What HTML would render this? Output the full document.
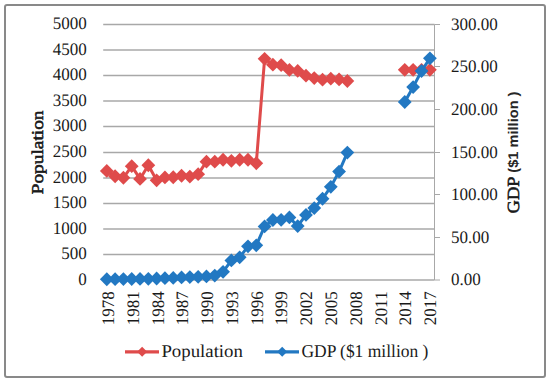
<!DOCTYPE html>
<html><head><meta charset="utf-8"><style>
html,body{margin:0;padding:0;background:#fff;}
svg{display:block;text-rendering:geometricPrecision;}
.t{font-family:"Liberation Serif",serif;font-size:17.5px;fill:#1a1a1a;}
.tl{font-family:"Liberation Serif",serif;font-size:18px;fill:#1a1a1a;}
.tb{font-family:"Liberation Serif",serif;font-size:16.5px;font-weight:normal;fill:#1a1a1a;stroke:#1a1a1a;stroke-width:0.55px;}
.tb2{font-family:"Liberation Serif",serif;font-size:17px;font-weight:normal;fill:#1a1a1a;stroke:#1a1a1a;stroke-width:0.55px;}
.ts{font-family:"Liberation Sans",sans-serif;font-size:14px;font-weight:bold;fill:#262626;}
</style></head><body>
<svg width="550" height="382" viewBox="0 0 550 382">
<rect x="0" y="0" width="550" height="382" fill="#fff"/>
<rect x="5" y="5" width="540" height="372" rx="2" ry="2" fill="#fff" stroke="#898989" stroke-width="2"/>
<line x1="103.2" y1="24.5" x2="434.5" y2="24.5" stroke="#a8a8a8" stroke-width="1.4"/>
<line x1="103.2" y1="50.0" x2="434.5" y2="50.0" stroke="#a8a8a8" stroke-width="1.4"/>
<line x1="103.2" y1="75.5" x2="434.5" y2="75.5" stroke="#a8a8a8" stroke-width="1.4"/>
<line x1="103.2" y1="101.0" x2="434.5" y2="101.0" stroke="#a8a8a8" stroke-width="1.4"/>
<line x1="103.2" y1="126.5" x2="434.5" y2="126.5" stroke="#a8a8a8" stroke-width="1.4"/>
<line x1="103.2" y1="152.5" x2="434.5" y2="152.5" stroke="#a8a8a8" stroke-width="1.4"/>
<line x1="103.2" y1="178.0" x2="434.5" y2="178.0" stroke="#a8a8a8" stroke-width="1.4"/>
<line x1="103.2" y1="203.5" x2="434.5" y2="203.5" stroke="#a8a8a8" stroke-width="1.4"/>
<line x1="103.2" y1="229.0" x2="434.5" y2="229.0" stroke="#a8a8a8" stroke-width="1.4"/>
<line x1="103.2" y1="254.5" x2="434.5" y2="254.5" stroke="#a8a8a8" stroke-width="1.4"/>
<line x1="103.2" y1="280.0" x2="434.5" y2="280.0" stroke="#a8a8a8" stroke-width="1.4"/>
<line x1="434.5" y1="24.5" x2="434.5" y2="280.0" stroke="#a8a8a8" stroke-width="1"/>
<line x1="434.5" y1="24.5" x2="440.0" y2="24.5" stroke="#a8a8a8" stroke-width="1"/>
<line x1="434.5" y1="66.5" x2="440.0" y2="66.5" stroke="#a8a8a8" stroke-width="1"/>
<line x1="434.5" y1="109.5" x2="440.0" y2="109.5" stroke="#a8a8a8" stroke-width="1"/>
<line x1="434.5" y1="152.5" x2="440.0" y2="152.5" stroke="#a8a8a8" stroke-width="1"/>
<line x1="434.5" y1="194.5" x2="440.0" y2="194.5" stroke="#a8a8a8" stroke-width="1"/>
<line x1="434.5" y1="237.5" x2="440.0" y2="237.5" stroke="#a8a8a8" stroke-width="1"/>
<line x1="434.5" y1="280.0" x2="440.0" y2="280.0" stroke="#a8a8a8" stroke-width="1"/>
<text transform="translate(86.8,29.40) scale(1,1.0)" text-anchor="end" class="t" textLength="34.0" lengthAdjust="spacingAndGlyphs">5000</text>
<text transform="translate(86.8,54.90) scale(1,1.0)" text-anchor="end" class="t" textLength="34.0" lengthAdjust="spacingAndGlyphs">4500</text>
<text transform="translate(86.8,80.40) scale(1,1.0)" text-anchor="end" class="t" textLength="34.0" lengthAdjust="spacingAndGlyphs">4000</text>
<text transform="translate(86.8,105.90) scale(1,1.0)" text-anchor="end" class="t" textLength="34.0" lengthAdjust="spacingAndGlyphs">3500</text>
<text transform="translate(86.8,131.40) scale(1,1.0)" text-anchor="end" class="t" textLength="34.0" lengthAdjust="spacingAndGlyphs">3000</text>
<text transform="translate(86.8,157.40) scale(1,1.0)" text-anchor="end" class="t" textLength="34.0" lengthAdjust="spacingAndGlyphs">2500</text>
<text transform="translate(86.8,182.90) scale(1,1.0)" text-anchor="end" class="t" textLength="34.0" lengthAdjust="spacingAndGlyphs">2000</text>
<text transform="translate(86.8,208.40) scale(1,1.0)" text-anchor="end" class="t" textLength="34.0" lengthAdjust="spacingAndGlyphs">1500</text>
<text transform="translate(86.8,233.90) scale(1,1.0)" text-anchor="end" class="t" textLength="34.0" lengthAdjust="spacingAndGlyphs">1000</text>
<text transform="translate(86.8,259.40) scale(1,1.0)" text-anchor="end" class="t" textLength="25.5" lengthAdjust="spacingAndGlyphs">500</text>
<text transform="translate(86.8,284.90) scale(1,1.0)" text-anchor="end" class="t" textLength="8.5" lengthAdjust="spacingAndGlyphs">0</text>
<text transform="translate(451.0,29.80) scale(1,1.0)" class="t" textLength="46.75" lengthAdjust="spacingAndGlyphs">300.00</text>
<text transform="translate(451.0,71.80) scale(1,1.0)" class="t" textLength="46.75" lengthAdjust="spacingAndGlyphs">250.00</text>
<text transform="translate(451.0,114.80) scale(1,1.0)" class="t" textLength="46.75" lengthAdjust="spacingAndGlyphs">200.00</text>
<text transform="translate(451.0,157.80) scale(1,1.0)" class="t" textLength="46.75" lengthAdjust="spacingAndGlyphs">150.00</text>
<text transform="translate(451.0,199.80) scale(1,1.0)" class="t" textLength="46.75" lengthAdjust="spacingAndGlyphs">100.00</text>
<text transform="translate(451.0,242.80) scale(1,1.0)" class="t" textLength="38.25" lengthAdjust="spacingAndGlyphs">50.00</text>
<text transform="translate(451.0,285.30) scale(1,1.0)" class="t" textLength="29.75" lengthAdjust="spacingAndGlyphs">0.00</text>
<text transform="translate(114.10,291.2) rotate(-90) scale(1,1.0)" text-anchor="end" class="t" textLength="34.0" lengthAdjust="spacingAndGlyphs">1978</text>
<text transform="translate(138.87,291.2) rotate(-90) scale(1,1.0)" text-anchor="end" class="t" textLength="34.0" lengthAdjust="spacingAndGlyphs">1981</text>
<text transform="translate(163.63,291.2) rotate(-90) scale(1,1.0)" text-anchor="end" class="t" textLength="34.0" lengthAdjust="spacingAndGlyphs">1984</text>
<text transform="translate(188.40,291.2) rotate(-90) scale(1,1.0)" text-anchor="end" class="t" textLength="34.0" lengthAdjust="spacingAndGlyphs">1987</text>
<text transform="translate(213.16,291.2) rotate(-90) scale(1,1.0)" text-anchor="end" class="t" textLength="34.0" lengthAdjust="spacingAndGlyphs">1990</text>
<text transform="translate(237.93,291.2) rotate(-90) scale(1,1.0)" text-anchor="end" class="t" textLength="34.0" lengthAdjust="spacingAndGlyphs">1993</text>
<text transform="translate(262.69,291.2) rotate(-90) scale(1,1.0)" text-anchor="end" class="t" textLength="34.0" lengthAdjust="spacingAndGlyphs">1996</text>
<text transform="translate(287.46,291.2) rotate(-90) scale(1,1.0)" text-anchor="end" class="t" textLength="34.0" lengthAdjust="spacingAndGlyphs">1999</text>
<text transform="translate(312.22,291.2) rotate(-90) scale(1,1.0)" text-anchor="end" class="t" textLength="34.0" lengthAdjust="spacingAndGlyphs">2002</text>
<text transform="translate(336.99,291.2) rotate(-90) scale(1,1.0)" text-anchor="end" class="t" textLength="34.0" lengthAdjust="spacingAndGlyphs">2005</text>
<text transform="translate(361.75,291.2) rotate(-90) scale(1,1.0)" text-anchor="end" class="t" textLength="34.0" lengthAdjust="spacingAndGlyphs">2008</text>
<text transform="translate(386.52,291.2) rotate(-90) scale(1,1.0)" text-anchor="end" class="t" textLength="34.0" lengthAdjust="spacingAndGlyphs">2011</text>
<text transform="translate(411.28,291.2) rotate(-90) scale(1,1.0)" text-anchor="end" class="t" textLength="34.0" lengthAdjust="spacingAndGlyphs">2014</text>
<text transform="translate(436.05,291.2) rotate(-90) scale(1,1.0)" text-anchor="end" class="t" textLength="34.0" lengthAdjust="spacingAndGlyphs">2017</text>
<polyline points="106.80,170.88 115.11,176.23 123.41,177.76 131.72,166.13 140.02,178.93 148.33,165.27 156.63,180.31 164.94,177.40 173.24,177.25 181.55,175.77 189.85,176.59 198.16,174.19 206.46,161.70 214.77,161.70 223.07,159.75 231.38,160.78 239.68,159.75 247.99,159.75 256.29,163.23 264.60,58.80 272.88,64.70 281.15,65.21 289.43,69.95 297.70,70.97 305.98,75.66 314.25,78.06 322.53,79.64 330.80,78.72 339.08,79.43 347.35,81.02" fill="none" stroke="#df4b4b" stroke-width="3" stroke-linejoin="round" stroke-linecap="round"/>
<polyline points="404.75,69.79 413.13,69.79 421.52,69.79 429.90,69.79" fill="none" stroke="#df4b4b" stroke-width="3" stroke-linejoin="round" stroke-linecap="round"/>
<path d="M99.90,170.88L106.80,163.98L113.70,170.88L106.80,177.78Z" fill="#df4b4b"/>
<path d="M108.21,176.23L115.11,169.33L122.01,176.23L115.11,183.13Z" fill="#df4b4b"/>
<path d="M116.51,177.76L123.41,170.86L130.31,177.76L123.41,184.66Z" fill="#df4b4b"/>
<path d="M124.82,166.13L131.72,159.23L138.62,166.13L131.72,173.03Z" fill="#df4b4b"/>
<path d="M133.12,178.93L140.02,172.03L146.92,178.93L140.02,185.83Z" fill="#df4b4b"/>
<path d="M141.43,165.27L148.33,158.37L155.23,165.27L148.33,172.17Z" fill="#df4b4b"/>
<path d="M149.73,180.31L156.63,173.41L163.53,180.31L156.63,187.21Z" fill="#df4b4b"/>
<path d="M158.04,177.40L164.94,170.50L171.84,177.40L164.94,184.30Z" fill="#df4b4b"/>
<path d="M166.34,177.25L173.24,170.35L180.14,177.25L173.24,184.15Z" fill="#df4b4b"/>
<path d="M174.65,175.77L181.55,168.87L188.45,175.77L181.55,182.67Z" fill="#df4b4b"/>
<path d="M182.95,176.59L189.85,169.69L196.75,176.59L189.85,183.49Z" fill="#df4b4b"/>
<path d="M191.26,174.19L198.16,167.29L205.06,174.19L198.16,181.09Z" fill="#df4b4b"/>
<path d="M199.56,161.70L206.46,154.80L213.36,161.70L206.46,168.60Z" fill="#df4b4b"/>
<path d="M207.87,161.70L214.77,154.80L221.67,161.70L214.77,168.60Z" fill="#df4b4b"/>
<path d="M216.17,159.75L223.07,152.85L229.97,159.75L223.07,166.65Z" fill="#df4b4b"/>
<path d="M224.48,160.78L231.38,153.88L238.28,160.78L231.38,167.68Z" fill="#df4b4b"/>
<path d="M232.78,159.75L239.68,152.85L246.58,159.75L239.68,166.65Z" fill="#df4b4b"/>
<path d="M241.09,159.75L247.99,152.85L254.89,159.75L247.99,166.65Z" fill="#df4b4b"/>
<path d="M249.39,163.23L256.29,156.33L263.19,163.23L256.29,170.13Z" fill="#df4b4b"/>
<path d="M257.70,58.80L264.60,51.90L271.50,58.80L264.60,65.70Z" fill="#df4b4b"/>
<path d="M265.98,64.70L272.88,57.80L279.77,64.70L272.88,71.60Z" fill="#df4b4b"/>
<path d="M274.25,65.21L281.15,58.31L288.05,65.21L281.15,72.11Z" fill="#df4b4b"/>
<path d="M282.53,69.95L289.43,63.05L296.32,69.95L289.43,76.85Z" fill="#df4b4b"/>
<path d="M290.80,70.97L297.70,64.07L304.60,70.97L297.70,77.87Z" fill="#df4b4b"/>
<path d="M299.08,75.66L305.98,68.76L312.88,75.66L305.98,82.56Z" fill="#df4b4b"/>
<path d="M307.35,78.06L314.25,71.16L321.15,78.06L314.25,84.96Z" fill="#df4b4b"/>
<path d="M315.63,79.64L322.53,72.74L329.43,79.64L322.53,86.54Z" fill="#df4b4b"/>
<path d="M323.90,78.72L330.80,71.82L337.70,78.72L330.80,85.62Z" fill="#df4b4b"/>
<path d="M332.18,79.43L339.08,72.53L345.98,79.43L339.08,86.33Z" fill="#df4b4b"/>
<path d="M340.45,81.02L347.35,74.12L354.25,81.02L347.35,87.92Z" fill="#df4b4b"/>
<path d="M397.85,69.79L404.75,62.89L411.65,69.79L404.75,76.69Z" fill="#df4b4b"/>
<path d="M406.23,69.79L413.13,62.89L420.03,69.79L413.13,76.69Z" fill="#df4b4b"/>
<path d="M414.62,69.79L421.52,62.89L428.42,69.79L421.52,76.69Z" fill="#df4b4b"/>
<path d="M423.00,69.79L429.90,62.89L436.80,69.79L429.90,76.69Z" fill="#df4b4b"/>
<polyline points="106.80,279.25 115.11,279.16 123.41,279.07 131.72,278.99 140.02,278.90 148.33,278.82 156.63,278.48 164.94,278.23 173.24,277.88 181.55,277.46 189.85,277.12 198.16,276.78 206.46,276.44 214.77,275.59 223.07,271.85 231.38,260.46 239.68,257.31 247.99,246.35 256.29,245.33 264.60,226.46 272.88,220.00 281.15,219.83 289.43,217.45 297.70,226.11 305.98,214.90 314.25,208.10 322.53,198.75 330.80,186.85 339.08,171.55 347.35,152.60" fill="none" stroke="#2278c2" stroke-width="3" stroke-linejoin="round" stroke-linecap="round"/>
<polyline points="404.75,102.00 413.13,87.10 421.52,71.00 429.90,58.30" fill="none" stroke="#2278c2" stroke-width="3" stroke-linejoin="round" stroke-linecap="round"/>
<path d="M99.90,279.25L106.80,272.35L113.70,279.25L106.80,286.14Z" fill="#2278c2"/>
<path d="M108.21,279.16L115.11,272.26L122.01,279.16L115.11,286.06Z" fill="#2278c2"/>
<path d="M116.51,279.07L123.41,272.18L130.31,279.07L123.41,285.97Z" fill="#2278c2"/>
<path d="M124.82,278.99L131.72,272.09L138.62,278.99L131.72,285.89Z" fill="#2278c2"/>
<path d="M133.12,278.90L140.02,272.00L146.92,278.90L140.02,285.80Z" fill="#2278c2"/>
<path d="M141.43,278.82L148.33,271.92L155.23,278.82L148.33,285.72Z" fill="#2278c2"/>
<path d="M149.73,278.48L156.63,271.58L163.53,278.48L156.63,285.38Z" fill="#2278c2"/>
<path d="M158.04,278.23L164.94,271.33L171.84,278.23L164.94,285.12Z" fill="#2278c2"/>
<path d="M166.34,277.88L173.24,270.99L180.14,277.88L173.24,284.78Z" fill="#2278c2"/>
<path d="M174.65,277.46L181.55,270.56L188.45,277.46L181.55,284.36Z" fill="#2278c2"/>
<path d="M182.95,277.12L189.85,270.22L196.75,277.12L189.85,284.02Z" fill="#2278c2"/>
<path d="M191.26,276.78L198.16,269.88L205.06,276.78L198.16,283.68Z" fill="#2278c2"/>
<path d="M199.56,276.44L206.46,269.54L213.36,276.44L206.46,283.34Z" fill="#2278c2"/>
<path d="M207.87,275.59L214.77,268.69L221.67,275.59L214.77,282.49Z" fill="#2278c2"/>
<path d="M216.17,271.85L223.07,264.95L229.97,271.85L223.07,278.75Z" fill="#2278c2"/>
<path d="M224.48,260.46L231.38,253.56L238.28,260.46L231.38,267.36Z" fill="#2278c2"/>
<path d="M232.78,257.31L239.68,250.41L246.58,257.31L239.68,264.21Z" fill="#2278c2"/>
<path d="M241.09,246.35L247.99,239.45L254.89,246.35L247.99,253.25Z" fill="#2278c2"/>
<path d="M249.39,245.33L256.29,238.43L263.19,245.33L256.29,252.23Z" fill="#2278c2"/>
<path d="M257.70,226.46L264.60,219.56L271.50,226.46L264.60,233.36Z" fill="#2278c2"/>
<path d="M265.98,220.00L272.88,213.10L279.77,220.00L272.88,226.90Z" fill="#2278c2"/>
<path d="M274.25,219.83L281.15,212.93L288.05,219.83L281.15,226.73Z" fill="#2278c2"/>
<path d="M282.53,217.45L289.43,210.55L296.32,217.45L289.43,224.35Z" fill="#2278c2"/>
<path d="M290.80,226.11L297.70,219.21L304.60,226.11L297.70,233.01Z" fill="#2278c2"/>
<path d="M299.08,214.90L305.98,208.00L312.88,214.90L305.98,221.80Z" fill="#2278c2"/>
<path d="M307.35,208.10L314.25,201.20L321.15,208.10L314.25,215.00Z" fill="#2278c2"/>
<path d="M315.63,198.75L322.53,191.85L329.43,198.75L322.53,205.65Z" fill="#2278c2"/>
<path d="M323.90,186.85L330.80,179.95L337.70,186.85L330.80,193.75Z" fill="#2278c2"/>
<path d="M332.18,171.55L339.08,164.65L345.98,171.55L339.08,178.45Z" fill="#2278c2"/>
<path d="M340.45,152.60L347.35,145.70L354.25,152.60L347.35,159.50Z" fill="#2278c2"/>
<path d="M397.85,102.00L404.75,95.10L411.65,102.00L404.75,108.90Z" fill="#2278c2"/>
<path d="M406.23,87.10L413.13,80.20L420.03,87.10L413.13,94.00Z" fill="#2278c2"/>
<path d="M414.62,71.00L421.52,64.10L428.42,71.00L421.52,77.90Z" fill="#2278c2"/>
<path d="M423.00,58.30L429.90,51.40L436.80,58.30L429.90,65.20Z" fill="#2278c2"/>
<text transform="translate(43.0,194.3) rotate(-90)" class="tb" textLength="83.8" lengthAdjust="spacingAndGlyphs">Population</text>
<text transform="translate(518.8,213.4) rotate(-90)" class="tb2" textLength="37" lengthAdjust="spacingAndGlyphs">GDP</text>
<text transform="translate(518.3,172.7) rotate(-90)" class="ts" textLength="81.2" lengthAdjust="spacingAndGlyphs">($1 million )</text>
<line x1="125" y1="351.8" x2="159" y2="351.8" stroke="#df4b4b" stroke-width="3.2"/>
<path d="M137.1,351.8L142.1,346.8L147.1,351.8L142.1,356.8Z" fill="#df4b4b"/>
<text transform="translate(161.4,356.6)" class="tl" textLength="81.5" lengthAdjust="spacingAndGlyphs">Population</text>
<line x1="265" y1="351.8" x2="299" y2="351.8" stroke="#2278c2" stroke-width="3.2"/>
<path d="M277.2,351.8L282.2,346.8L287.2,351.8L282.2,356.8Z" fill="#2278c2"/>
<text transform="translate(301.4,356.6)" class="tl" textLength="127" lengthAdjust="spacingAndGlyphs">GDP ($1 million )</text>
</svg>
</body></html>
